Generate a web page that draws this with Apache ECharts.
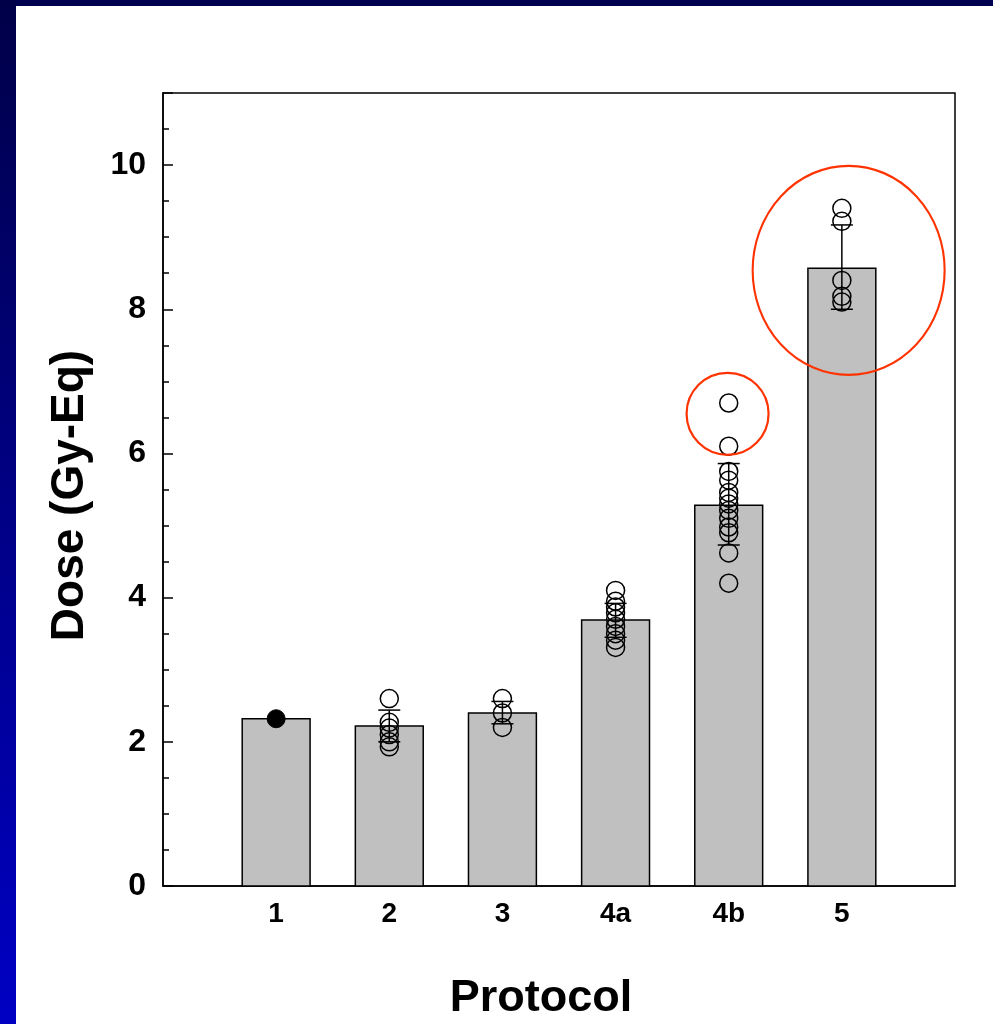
<!DOCTYPE html>
<html>
<head>
<meta charset="utf-8">
<script src="https://cdn.jsdelivr.net/npm/echarts@6/dist/echarts.min.js"></script>
<style>
html,body{margin:0;padding:0;background:#fff;}
#chart{width:993px;height:1024px;}
</style>
</head>
<body>
<div id="chart"></div>
<script>
// ---- data ----
const protocolPos = [1, 2, 3, 4, 5, 6];
const protocolLabels = ['1', '2', '3', '4a', '4b', '5'];
const meanDose = [2.32, 2.22, 2.40, 3.69, 5.28, 8.57];
const errLow = [null, 2.00, 2.25, 3.45, 4.73, 8.00];
const errHigh = [null, 2.44, 2.56, 3.92, 5.86, 9.17];
const pts1 = [2.32];
const pts2 = [2.6, 2.27, 2.19, 2.1, 2.0, 1.93];
const pts3 = [2.6, 2.4, 2.2];
const pts4a = [4.1, 3.95, 3.87, 3.79, 3.7, 3.6, 3.5, 3.41, 3.31];
const pts4b = [6.7, 6.1, 5.75, 5.63, 5.46, 5.38, 5.3, 5.21, 5.1, 4.98, 4.9, 4.62, 4.2];
const pts5 = [9.4, 9.22, 8.4, 8.18, 8.1];
const highlightSmall = [[4.99, 6.55]];
const highlightLarge = [[6.06, 8.54]];
const yTicks = [0, 2, 4, 6, 8, 10];

// ---- build ----
const barData = protocolPos.map((x, i) => [x, meanDose[i]]);
const errData = protocolPos.map((x, i) => [x, errLow[i], errHigh[i]]).filter(d => d[1] != null);
const openGroups = [pts2, pts3, pts4a, pts4b, pts5];
const openData = [];
openGroups.forEach((g, gi) => g.forEach(v => openData.push([protocolPos[gi + 1], v])));
const filledData = pts1.map(v => [protocolPos[0], v]);

const chart = echarts.init(document.getElementById('chart'), null, {renderer: 'canvas'});
const fontFam = 'Liberation Sans, Arial, Helvetica, sans-serif';

chart.setOption({
  animation: false,
  backgroundColor: '#fff',
  graphic: [
    {type: 'rect', left: 0, top: 0, shape: {width: 993, height: 6}, style: {fill: '#000050'}, z: 100},
    {type: 'rect', left: 0, top: 0, shape: {width: 16, height: 1024},
      style: {fill: new echarts.graphic.LinearGradient(0, 0, 0, 1, [
        {offset: 0, color: '#000048'}, {offset: 1, color: '#0000c4'}])}, z: 100}
  ],
  grid: {left: 163, right: 38, top: 93, bottom: 138, show: true, borderColor: '#000', borderWidth: 1.5,
    outerBoundsMode: 'none', containLabel: false},
  xAxis: {
    type: 'value', min: 0, max: 7, interval: 1,
    name: 'Protocol', nameLocation: 'middle', nameGap: 90,
    nameTextStyle: {fontFamily: fontFam, fontWeight: 'bold', fontSize: 45, color: '#000', padding: [0, 36, 0, 0]},
    axisLine: {show: true, lineStyle: {color: '#000', width: 1.5}},
    axisTick: {show: false},
    splitLine: {show: false},
    axisLabel: {
      margin: 14, fontFamily: fontFam, fontWeight: 'bold', fontSize: 28, color: '#000',
      formatter: v => { const i = protocolPos.indexOf(v); return i >= 0 ? protocolLabels[i] : ''; }
    }
  },
  yAxis: {
    type: 'value', min: 0, max: 11, interval: 2,
    name: 'Dose (Gy-Eq)', nameLocation: 'middle', nameGap: 70,
    nameTextStyle: {fontFamily: fontFam, fontWeight: 'bold', fontSize: 46, color: '#000', padding: [0, 12, 0, 0]},
    axisLine: {show: true, lineStyle: {color: '#000', width: 1.5}},
    axisTick: {show: true, inside: true, length: 10, lineStyle: {color: '#000', width: 1.5}},
    minorTick: {show: true, splitNumber: 4, length: 6, lineStyle: {color: '#000', width: 1.5}},
    splitLine: {show: false},
    axisLabel: {
      margin: 17, fontFamily: fontFam, fontWeight: 'bold', fontSize: 32, color: '#000',
      formatter: v => yTicks.indexOf(v) >= 0 ? String(v) : ''
    }
  },
  series: [
    {
      type: 'custom', name: 'mean', data: barData, z: 2,
      renderItem: (params, api) => {
        const x = api.value(0), y = api.value(1);
        const p0 = api.coord([x - 0.3, y]);
        const p1 = api.coord([x + 0.3, 0]);
        return {type: 'rect', shape: {x: p0[0], y: p0[1], width: p1[0] - p0[0], height: p1[1] - p0[1]},
          style: {fill: '#c0c0c0', stroke: '#000', lineWidth: 1.5}};
      }
    },
    {
      type: 'custom', name: 'sd', data: errData, z: 3,
      renderItem: (params, api) => {
        const x = api.value(0);
        const lo = api.coord([x, api.value(1)]);
        const hi = api.coord([x, api.value(2)]);
        const hw = 11;
        const st = {stroke: '#000', lineWidth: 1.5};
        return {type: 'group', children: [
          {type: 'line', shape: {x1: lo[0], y1: lo[1], x2: hi[0], y2: hi[1]}, style: st},
          {type: 'line', shape: {x1: lo[0] - hw, y1: lo[1], x2: lo[0] + hw, y2: lo[1]}, style: st},
          {type: 'line', shape: {x1: hi[0] - hw, y1: hi[1], x2: hi[0] + hw, y2: hi[1]}, style: st}
        ]};
      }
    },
    {
      type: 'scatter', name: 'individual', data: openData, z: 4,
      symbol: 'circle', symbolSize: 18,
      itemStyle: {color: 'rgba(0,0,0,0)', borderColor: '#000', borderWidth: 1.5, opacity: 1}
    },
    {
      type: 'scatter', name: 'single', data: filledData, z: 4,
      symbol: 'circle', symbolSize: 18,
      itemStyle: {color: '#000', borderColor: '#000', borderWidth: 1, opacity: 1}
    },
    {
      type: 'scatter', name: 'highlight small', data: highlightSmall, z: 5,
      symbol: 'circle', symbolSize: 82,
      itemStyle: {color: 'rgba(0,0,0,0)', borderColor: '#ff3300', borderWidth: 2.2, opacity: 1}
    },
    {
      type: 'scatter', name: 'highlight large', data: highlightLarge, z: 5,
      symbol: 'circle', symbolSize: [192, 209],
      itemStyle: {color: 'rgba(0,0,0,0)', borderColor: '#ff3300', borderWidth: 2.2, opacity: 1}
    }
  ]
});
</script>
</body>
</html>
